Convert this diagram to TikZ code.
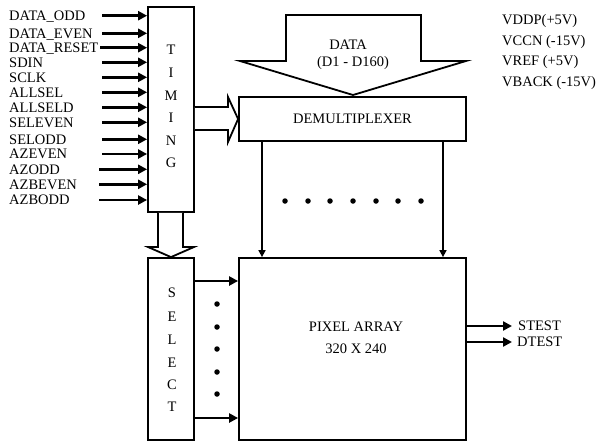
\documentclass[tikz,border=0pt]{standalone}
\usepackage{fontspec}
\setmainfont{Liberation Serif}
\usetikzlibrary{arrows.meta}
\begin{document}
\begin{tikzpicture}[x=1pt,y=-1pt,
  every node/.style={font=\fontsize{14.5}{15}\selectfont, inner sep=0pt},
  blk/.style={draw, line width=1.8pt, minimum width=#1, inner sep=0pt},
  lbl/.style={anchor=base west},
  inarrow/.style={line width=2.6pt, -{Triangle[length=9pt,width=9pt]}},
  thinarrow/.style={line width=1.6pt, -{Triangle[length=7pt,width=7pt]}},
  hollow/.style={draw, line width=1.8pt, fill=white, line join=miter},
  dot/.style={circle, fill=black, minimum size=5.5pt, inner sep=0pt}]
\useasboundingbox (0,0) rectangle (600,442);

% blocks
\node[blk=46pt, minimum height=205pt] (timing) at (171,109.5) {};
\node[blk=227pt, minimum height=44pt] (demux) at (352.5,119) {DEMULTIPLEXER};
\node[blk=46pt, minimum height=182pt] (select) at (171,349) {};
\node[blk=227pt, minimum height=182pt] (pixel) at (352.5,349) {};

% timing letters
\foreach \c/\y [count=\i] in {T/50,I/73,M/96,I/118,N/141,G/163}
  \node (tl\i) at (171,\y) {\c};
% select letters
\foreach \c/\y [count=\i] in {S/293,E/317,L/340,E/363,C/385,T/407}
  \node (sl\i) at (172,\y) {\c};

% pixel array text
\node (pa1) at (356,327) {PIXEL ARRAY};
\node (pa2) at (356,349) {320 X 240};

% inputs
\foreach \t/\y/\sx [count=\i] in {DATA\_ODD/15.7/102,DATA\_EVEN/33.3/102,DATA\_RESET/47.7/100,SDIN/62.3/102,SCLK/77.3/102,ALLSEL/92.3/102,ALLSELD/107.3/102,SELEVEN/122.3/102,SELODD/139.3/102,AZEVEN/154/102,AZODD/169.3/99,AZBEVEN/184.3/99,AZBODD/200/99}{
  \node[lbl] (in\i) at (9,\y+4.8) {\t};
  \coordinate (is\i) at (\sx,\y);
  \draw[inarrow] (is\i) -- (is\i -| timing.west);
}

% voltages
\node[lbl] (v1) at (502,24.8) {VDDP(+5V)};
\node[lbl] (v2) at (502,45.3) {VCCN (-15V)};
\node[lbl] (v3) at (502,65.8) {VREF (+5V)};
\node[lbl] (v4) at (502,86.3) {VBACK (-15V)};

% DATA big hollow arrow
\draw[hollow] (286,15) -- (421,15) -- (421,61) -- (466,61) -- (353,95)
  -- (240,61) -- (286,61) -- cycle;
\node (data1) at (348,45) {DATA};
\node (data2) at (353,63) {(D1 - D160)};

% timing -> demux hollow arrow
\draw[hollow] (timing.east |- 0,107) -- (228,107) -- (228,97) -- (demux.west)
  -- (228,142) -- (228,130) -- (timing.east |- 0,130);
% timing -> select hollow arrow
\draw[hollow] (158,0 |- timing.south) -- (158,247) -- (148,247) -- (select.north)
  -- (194,247) -- (183,247) -- (183,0 |- timing.south);

% demux -> pixel
\coordinate (d1) at (262,0);
\coordinate (d2) at (443,0);
\draw[thinarrow] (d1 |- demux.south) -- (d1 |- pixel.north);
\draw[thinarrow] (d2 |- demux.south) -- (d2 |- pixel.north);
\foreach \x [count=\i] in {285,308,330,353,376,398,421}
  \node[dot] (hd\i) at (\x,201) {};

% select -> pixel
\coordinate (p1) at (0,281);
\coordinate (p2) at (0,418);
\draw[inarrow] (select.east |- p1) -- (pixel.west |- p1);
\draw[inarrow] (select.east |- p2) -- (pixel.west |- p2);
\foreach \y [count=\i] in {304,327,349,372,394}
  \node[dot] (vd\i) at (217,\y) {};

% outputs
\node[lbl] (st) at (518,330.8) {STEST};
\node[lbl] (dt) at (517,346.8) {DTEST};
\coordinate (o1) at (512,326);
\coordinate (o2) at (512,342);
\draw[inarrow] (pixel.east |- o1) -- (o1);
\draw[inarrow] (pixel.east |- o2) -- (o2);
\end{tikzpicture}
\end{document}
